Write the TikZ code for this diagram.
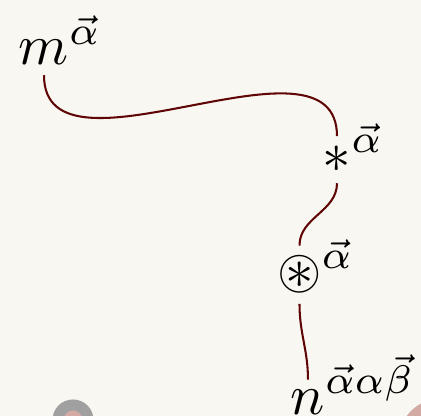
\documentclass[tikz,border=0pt]{standalone}
\usepackage{amsmath,amssymb}
\usepackage{tikz}
\usetikzlibrary{positioning}

\definecolor{paper}{RGB}{248,247,241}
\definecolor{wirered}{RGB}{95,5,5}
\definecolor{ringgray}{RGB}{160,160,160}
\definecolor{blush}{RGB}{211,170,164}

\newcommand{\supr}[1]{\smash{\rlap{$^{#1}$}}}

\begin{document}
\begin{tikzpicture}[
  x=0.1754pt, y=0.1754pt,
  sym/.style={inner sep=0pt, outer sep=1.8pt, anchor=base},
  wire/.style={draw=wirered, line width=0.36pt}
]
\fill[paper] (0,0) rectangle (421,-416);
\useasboundingbox (0,0) rectangle (421,-416);
\begin{scope}
  \clip (0,0) rectangle (421,-416);
  \fill[ringgray] (73,-420) circle (20.5);
  \fill[blush] (73,-420) circle (9.5);
  \fill[blush] (440,-440) circle (41);
\end{scope}
\node[sym] (m) at (44,-65) {$m\supr{\vec\alpha}$};
\node[sym] (ast) at (337,-173) {$\ast\supr{\vec\alpha}$};
\node[sym] (oast) at (299.5,-289) {$\circledast\supr{\vec\alpha}$};
\node[sym] (n) at (308,-414.5) {$n\supr{\vec\alpha\alpha\vec\beta}$};
\draw[wire] (m) to[out=-90, in=90] (ast);
\draw[wire] (ast) to[out=-90, in=90] (oast);
\draw[wire] (oast) to[out=-90, in=90] (n);
\end{tikzpicture}
\end{document}
